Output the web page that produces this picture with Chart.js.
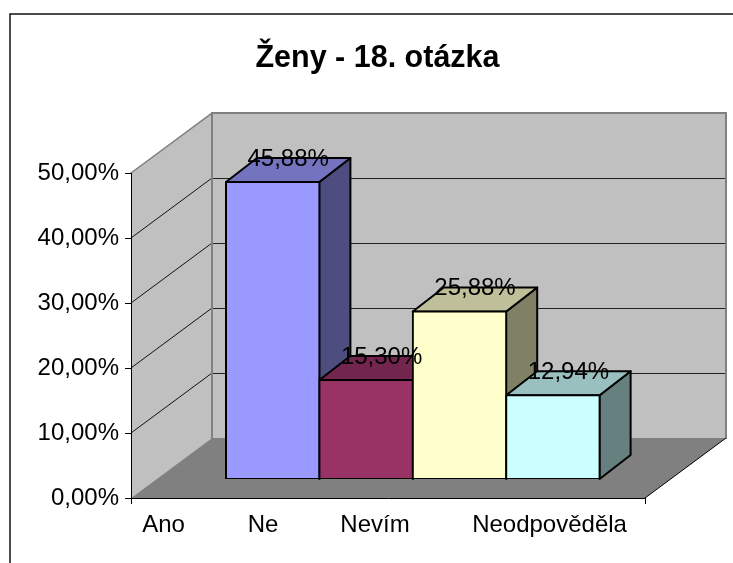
<!DOCTYPE html>
<html>
<head>
<meta charset="utf-8">
<title>Ženy - 18. otázka</title>
<script src="https://cdn.jsdelivr.net/npm/chart.js@4"></script>
<style>
    html, body { margin: 0; padding: 0; background: #fff; }
    canvas { display: block; }
</style>
</head>
<body>
<canvas id="graf" width="733" height="563"></canvas>
<script>
const titleText = 'Ženy - 18. otázka';
const categories = ['Ano', 'Ne', 'Nevím', 'Neodpověděla'];
const values = [45.88, 15.30, 25.88, 12.94];
const barColors = ['#9999FF', '#993366', '#FFFFCC', '#CCFFFF'];

// where the axis labels sit, in bar units (they do not line up with the bars)
const labelSlots = [-1.169, -0.104, 1.095, 2.964];

const FONT = "'Liberation Sans', Arial, sans-serif";
const WALL = { dx: 81, dy: -60 };   // depth of the floor
const BAR = { dx: 31, dy: -24, lift: -19 };   // depth of a bar, lift from the front edge

function percent(v) {
    return Number(v).toFixed(2).replace('.', ',') + '%';
}

function shade(hex, k) {
    const n = parseInt(hex.slice(1), 16);
    const c = [n >> 16, (n >> 8) & 255, n & 255].map(function(x) { return Math.round(x * k); });
    return 'rgb(' + c.join(',') + ')';
}

function poly(ctx, pts, fill, stroke, width) {
    ctx.beginPath();
    pts.forEach(function(p, i) {
        if (i === 0) ctx.moveTo(p[0], p[1]); else ctx.lineTo(p[0], p[1]);
    });
    ctx.closePath();
    if (fill) { ctx.fillStyle = fill; ctx.fill(); }
    if (stroke) { ctx.strokeStyle = stroke; ctx.lineWidth = width; ctx.lineJoin = 'round'; ctx.stroke(); }
}

function line(ctx, x1, y1, x2, y2, color, width) {
    ctx.beginPath();
    ctx.moveTo(x1, y1);
    ctx.lineTo(x2, y2);
    ctx.strokeStyle = color;
    ctx.lineWidth = width;
    ctx.stroke();
}

const walls3d = {
    id: 'walls3d',
    beforeDraw: function(chart) {
        const ctx = chart.ctx, a = chart.chartArea, y = chart.scales.y;
        const d = WALL;
        ctx.save();
        ctx.fillStyle = '#fff';
        ctx.fillRect(0, 0, chart.width, chart.height);

        // outer frame, cut off by the picture on the right and at the bottom
        ctx.beginPath();
        ctx.moveTo(10, chart.height);
        ctx.lineTo(10, 14);
        ctx.lineTo(chart.width, 14);
        ctx.strokeStyle = '#111';
        ctx.lineWidth = 1.5;
        ctx.stroke();

        // back wall, left wall, floor
        poly(ctx, [[a.left + d.dx, a.top + d.dy], [a.right + d.dx, a.top + d.dy],
                   [a.right + d.dx, a.bottom + d.dy], [a.left + d.dx, a.bottom + d.dy]], '#C0C0C0');
        poly(ctx, [[a.left, a.top], [a.left + d.dx, a.top + d.dy],
                   [a.left + d.dx, a.bottom + d.dy], [a.left, a.bottom]], '#C0C0C0');

        // grid on both walls
        y.ticks.forEach(function(t) {
            if (t.value === y.min || t.value === y.max) return;
            const py = y.getPixelForValue(t.value);
            line(ctx, a.left, py, a.left + d.dx, py + d.dy, '#111', 1);
            line(ctx, a.left + d.dx, py + d.dy + 0.5, a.right + d.dx, py + d.dy + 0.5, '#222', 1);
        });

        poly(ctx, [[a.left, a.bottom], [a.right, a.bottom],
                   [a.right + d.dx, a.bottom + d.dy], [a.left + d.dx, a.bottom + d.dy]], '#808080');

        // wall edges
        ctx.lineCap = 'square';
        line(ctx, a.left, a.top, a.left + d.dx, a.top + d.dy, '#808080', 1.5);
        line(ctx, a.left + d.dx, a.top + d.dy, a.right + d.dx, a.top + d.dy, '#808080', 2);
        line(ctx, a.left + d.dx, a.top + d.dy, a.left + d.dx, a.bottom + d.dy, '#808080', 2);
        line(ctx, a.right + d.dx, a.top + d.dy, a.right + d.dx, a.bottom + d.dy, '#808080', 2);
        ctx.lineCap = 'butt';
        line(ctx, a.right, a.bottom, a.right + d.dx, a.bottom + d.dy, '#000', 1);
        line(ctx, a.left + 0.5, a.bottom, a.left + 0.5, a.bottom + 6, '#000', 1);
        line(ctx, a.right + 0.5, a.bottom, a.right + 0.5, a.bottom + 6, '#000', 1);
        ctx.restore();
    },
    beforeDatasetsDraw: function(chart) {
        const ctx = chart.ctx;
        const bars = chart.getDatasetMeta(0).data;
        ctx.save();
        ctx.translate(0, BAR.lift);
        // top and side of every bar go under the front faces
        bars.forEach(function(b, i) {
            const l = b.x - b.width / 2, r = b.x + b.width / 2;
            poly(ctx, [[r, b.y], [r + BAR.dx, b.y + BAR.dy], [r + BAR.dx, b.base + BAR.dy], [r, b.base]],
                shade(barColors[i], 0.5), '#000', 2);
            poly(ctx, [[l, b.y], [l + BAR.dx, b.y + BAR.dy], [r + BAR.dx, b.y + BAR.dy], [r, b.y]],
                shade(barColors[i], 0.75), '#000', 2);
        });
    },
    afterDatasetsDraw: function(chart) {
        const ctx = chart.ctx;
        ctx.restore();
        ctx.save();
        ctx.font = '24px ' + FONT;
        ctx.fillStyle = '#000';
        ctx.textAlign = 'center';
        ctx.textBaseline = 'middle';
        chart.getDatasetMeta(0).data.forEach(function(b, i) {
            ctx.fillText(percent(values[i]), b.x + BAR.dx / 2, b.y + BAR.lift + BAR.dy + 1);
        });
        ctx.restore();
    }
};

new Chart(document.getElementById('graf').getContext('2d'), {
    type: 'bar',
    data: {
        datasets: [{
            data: categories.map(function(c, i) { return { x: i, y: values[i] }; }),
            yAxisID: 'yBars',
            backgroundColor: barColors,
            borderColor: '#000',
            borderWidth: 2,
            borderSkipped: false,
            inflateAmount: 1,
            barPercentage: 1,
            categoryPercentage: 1
        }]
    },
    plugins: [walls3d],
    options: {
        responsive: false,
        animation: false,
        events: [],
        layout: { padding: { left: 22, right: 0, top: 0, bottom: 0 } },
        plugins: {
            legend: { display: false },
            tooltip: { enabled: false },
            title: {
                display: true,
                text: titleText,
                color: '#000',
                font: { family: FONT, size: 30.5, weight: 'bold', lineHeight: 1.2 },
                padding: { top: 40, bottom: 96.4 }
            }
        },
        scales: {
            x: {
                type: 'linear',
                offset: false,
                min: -1.517,
                max: 3.986,
                afterBuildTicks: function(scale) {
                    scale.ticks = labelSlots.map(function(v) { return { value: v }; });
                },
                afterFit: function(scale) { scale.height = 65; },
                grid: { offset: false, drawOnChartArea: false, drawTicks: false },
                border: { display: true, color: '#000', width: 1 },
                ticks: {
                    autoSkip: false,
                    maxRotation: 0,
                    padding: 13,
                    color: '#000',
                    font: { family: FONT, size: 24 },
                    callback: function(v, i) { return categories[i]; }
                }
            },
            y: {
                min: 0,
                max: 50,
                afterFit: function(scale) { scale.width = 109; },
                grid: { drawOnChartArea: false, drawTicks: true, tickLength: 6, tickColor: '#000' },
                border: { display: true, color: '#000', width: 1 },
                ticks: {
                    stepSize: 10,
                    padding: 6,
                    color: '#000',
                    font: { family: FONT, size: 24 },
                    callback: percent
                }
            },
            // bars stand a little further back, so their scale is slightly shorter;
            // this axis also keeps the empty strip right of the front plane
            yBars: {
                position: 'right',
                min: 0,
                max: 50.2,
                afterFit: function(scale) { scale.width = 88; },
                grid: { display: false },
                border: { display: false },
                ticks: { display: false }
            }
        }
    }
});
</script>
</body>
</html>
